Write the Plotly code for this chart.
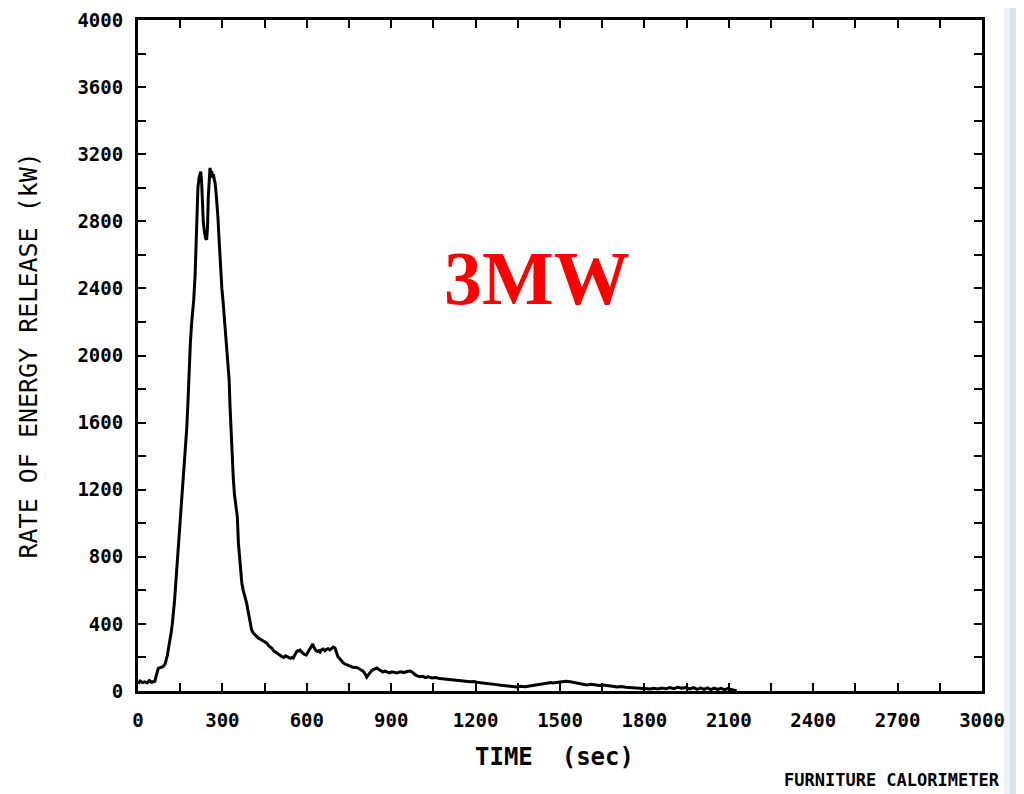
import plotly.graph_objects as go

# ---- data ----
time_s = [
    0, 8, 16, 24, 32, 40, 48, 56, 60, 63,
    66, 72, 80, 88, 96, 104, 110, 114, 118, 122,
    125, 130, 135, 139, 143, 147, 152, 157, 161, 166,
    170, 173, 177, 182, 186, 190, 194, 198, 203, 206,
    209, 213, 217, 220, 223, 226, 229, 232, 236, 240,
    244, 247, 250, 253, 256, 259, 262, 265, 268, 271,
    274, 278, 281, 284, 288, 292, 295, 298, 302, 306,
    310, 313, 317, 321, 324, 327, 331, 335, 339, 343,
    348, 353, 357, 361, 365, 369, 374, 379, 386, 392,
    398, 404, 410, 416, 422, 428, 434, 440, 446, 452,
    458, 464, 470, 476, 482, 488, 494, 500, 506, 512,
    518, 524, 530, 536, 542, 548, 552, 556, 560, 564,
    568, 572, 576, 580, 586, 592, 598, 602, 606, 610,
    614, 618, 621, 624, 628, 633, 638, 643, 647, 652,
    658, 664, 670, 676, 682, 688, 694, 700, 704, 708,
    711, 716, 722, 728, 734, 742, 750, 758, 766, 774,
    782, 788, 794, 800, 806, 810, 813, 818, 824, 830,
    836, 842, 849, 855, 861, 867, 871, 878, 886, 894,
    902, 910, 920, 928, 936, 944, 952, 960, 967, 975,
    983, 990, 1002, 1012, 1022, 1032, 1045, 1058, 1072, 1086,
    1100, 1109, 1122, 1136, 1150, 1165, 1180, 1195, 1210, 1226,
    1242, 1258, 1274, 1290, 1306, 1322, 1334, 1346, 1360, 1376,
    1392, 1408, 1424, 1440, 1456, 1468, 1475, 1490, 1505, 1520,
    1536, 1550, 1565, 1580, 1595, 1610, 1625, 1640, 1655, 1670,
    1686, 1702, 1718, 1734, 1750, 1766, 1782, 1798, 1812, 1820,
    1834, 1848, 1862, 1876, 1890, 1904, 1918, 1932, 1945, 1951,
    1962, 1975, 1988, 2000, 2012, 2024, 2036, 2048, 2060, 2072,
    2085, 2096, 2106, 2115, 2122, 2128,
]
rate_kw = [
    45, 60, 50, 55, 48, 62, 52, 55, 58, 80,
    95, 135, 140, 145, 160, 210, 270, 305, 350, 400,
    445, 540, 660, 750, 840, 960, 1070, 1190, 1260, 1380,
    1480, 1560, 1700, 1950, 2070, 2180, 2250, 2330, 2480, 2630,
    2900, 3000, 3060, 3080, 3096, 3040, 2900, 2800, 2740, 2700,
    2690, 2760, 2950, 3080, 3118, 3070, 3100, 3060, 3080, 3050,
    3028, 2960, 2900, 2826, 2700, 2560, 2450, 2400, 2330, 2250,
    2160, 2112, 2030, 1950, 1854, 1700, 1520, 1390, 1258, 1170,
    1100, 1040, 880, 790, 720, 644, 600, 570, 525, 470,
    410, 364, 345, 335, 320, 315, 310, 305, 295, 290,
    285, 270, 262, 255, 240, 232, 225, 218, 210, 205,
    200, 210, 205, 198, 195, 200, 197, 210, 225, 235,
    240, 238, 244, 235, 225, 218, 215, 225, 235, 245,
    255, 270, 280, 265, 250, 240, 235, 240, 232, 245,
    250, 240, 248, 252, 245, 255, 262, 256, 235, 215,
    203, 195, 180, 170, 162, 155, 150, 145, 140, 142,
    137, 130, 125, 118, 105, 90, 83, 95, 110, 120,
    128, 133, 137, 130, 122, 118, 113, 118, 112, 108,
    114, 110, 107, 112, 115, 110, 115, 118, 119, 112,
    100, 92, 85, 88, 80, 84, 78, 80, 74, 72,
    70, 66, 68, 62, 64, 58, 55, 56, 50, 48,
    45, 42, 38, 34, 30, 28, 26, 24, 28, 26,
    30, 34, 38, 44, 48, 50, 48, 52, 55, 58,
    55, 50, 45, 40, 36, 40, 36, 33, 35, 30,
    28, 24, 27, 22, 20, 22, 17, 18, 14, 12,
    16, 12, 18, 13, 20, 14, 22, 16, 20, 18,
    12, 20, 10, 18, 10, 19, 8, 17, 9, 16,
    8, 14, 8, 6, 3, 0,
]
assert len(time_s) == len(rate_kw)

x_tick_values = [0, 300, 600, 900, 1200, 1500, 1800, 2100, 2400, 2700, 3000]
x_tick_labels = ["0", "300", "600", "900", "1200", "1500", "1800", "2100", "2400", "2700", "3000"]
y_tick_values = [0, 400, 800, 1200, 1600, 2000, 2400, 2800, 3200, 3600, 4000]
y_tick_labels = ["0", "400", "800", "1200", "1600", "2000", "2400", "2800", "3200", "3600", "4000"]

x_title = "TIME\u00a0\u00a0(sec)"
y_title = "RATE OF ENERGY RELEASE (kW)"
big_label = "3MW"
footer = "FURNITURE CALORIMETER"

MONO = "DejaVu Sans Mono"

fig = go.Figure()
fig.add_trace(go.Scatter(
    x=time_s, y=rate_kw, mode="lines",
    line=dict(color="black", width=3),
    hoverinfo="skip", showlegend=False,
))

axis_common = dict(
    showgrid=False, zeroline=False, automargin=False,
    showline=True, linecolor="black", linewidth=3,
    mirror="ticks", ticks="inside", ticklen=8, tickwidth=2, tickcolor="black",
    tickfont=dict(family=MONO, size=19, color="black", weight="bold"),
)

fig.update_xaxes(
    range=[0, 3000], tickmode="array",
    tickvals=x_tick_values, ticktext=x_tick_labels,
    minor=dict(dtick=150, ticks="inside", ticklen=8, tickwidth=2, tickcolor="black", showgrid=False),
    ticklabelstandoff=10,
    **axis_common,
)
fig.update_yaxes(
    range=[0, 4000], tickmode="array",
    tickvals=y_tick_values, ticktext=y_tick_labels,
    minor=dict(dtick=200, ticks="inside", ticklen=8, tickwidth=2, tickcolor="black", showgrid=False),
    ticklabelstandoff=8,
    **axis_common,
)

# light bluish strip at the right edge of the image
fig.add_shape(type="rect", xref="paper", yref="paper",
              x0=1.0261, x1=1.0332, y0=-0.2, y1=1.1,
              fillcolor="#eef1f7", line=dict(width=0), layer="below")
fig.add_shape(type="rect", xref="paper", yref="paper",
              x0=1.0332, x1=1.06, y0=-0.2, y1=1.1,
              fillcolor="#dbe1ed", line=dict(width=0), layer="below")

fig.add_annotation(text=big_label, xref="paper", yref="paper",
                   x=0.4727, y=0.6155, xanchor="center", yanchor="middle",
                   showarrow=False,
                   font=dict(family="Liberation Serif", size=76, color="#ff0000", weight="bold"))
fig.add_annotation(text=y_title, xref="paper", yref="paper",
                   x=-0.1303, y=0.5, xanchor="center", yanchor="middle",
                   textangle=-90, showarrow=False,
                   font=dict(family=MONO, size=25, color="black"))
fig.add_annotation(text=x_title, xref="paper", yref="paper",
                   x=0.494, y=-0.0984, xanchor="center", yanchor="middle",
                   showarrow=False,
                   font=dict(family=MONO, size=24, color="black", weight="bold"))
fig.add_annotation(text=footer, xref="paper", yref="paper",
                   x=0.763, y=-0.1326, xanchor="left", yanchor="middle",
                   showarrow=False,
                   font=dict(family=MONO, size=17, color="black", weight="bold"))

# the page body has an 8px margin, so the figure is sized/margined to put the
# plot frame at the same screen pixels as the reference
fig.update_layout(
    width=1016, height=786,
    margin=dict(l=130, r=42, t=12, b=103),
    paper_bgcolor="white", plot_bgcolor="white",
)

fig.write_html("out.html")
